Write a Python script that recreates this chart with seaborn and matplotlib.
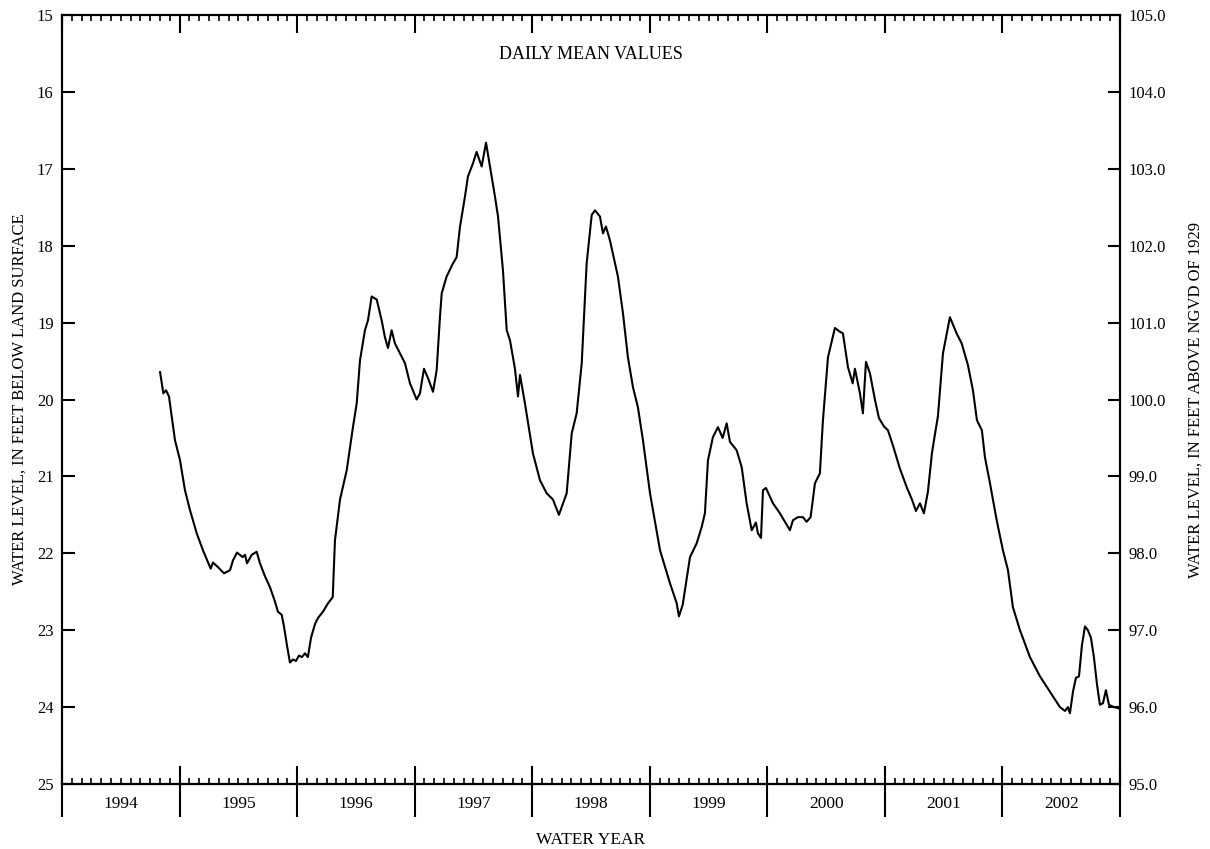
import numpy as np
import pandas as pd
import matplotlib
matplotlib.use("Agg")
import matplotlib.pyplot as plt
import seaborn as sns

# decimal calendar year of each reading, and water level (ft below land surface)
year_frac = [
    1994.584, 1994.612, 1994.635, 1994.660, 1994.711, 1994.754, 1994.796, 1994.839, 1994.896, 1994.949,
    1995.015, 1995.034, 1995.077, 1995.128, 1995.179, 1995.205, 1995.239, 1995.287, 1995.307, 1995.324,
    1995.364, 1995.406, 1995.434, 1995.477, 1995.519, 1995.562, 1995.587, 1995.619, 1995.638, 1995.664,
    1995.689, 1995.715, 1995.740, 1995.766, 1995.791, 1995.817, 1995.842, 1995.868, 1995.902, 1995.928,
    1995.970, 1996.013, 1996.053, 1996.072, 1996.115, 1996.172, 1996.225, 1996.257, 1996.285, 1996.327,
    1996.353, 1996.384, 1996.427, 1996.469, 1996.497, 1996.523, 1996.554, 1996.582, 1996.625, 1996.668,
    1996.710, 1996.767, 1996.795, 1996.829, 1996.863, 1996.906, 1996.937, 1996.965, 1996.980, 1997.022,
    1997.076, 1997.107, 1997.135, 1997.178, 1997.203, 1997.246, 1997.277, 1997.320, 1997.357, 1997.433,
    1997.459, 1997.501, 1997.533, 1997.561, 1997.603, 1997.629, 1997.646, 1997.688, 1997.756, 1997.816,
    1997.873, 1997.926, 1997.977, 1998.043, 1998.086, 1998.128, 1998.171, 1998.213, 1998.256, 1998.284,
    1998.326, 1998.352, 1998.377, 1998.411, 1998.454, 1998.479, 1998.522, 1998.564, 1998.607, 1998.649,
    1998.692, 1998.752, 1998.837, 1998.922, 1998.979, 1998.998, 1999.030, 1999.092, 1999.149, 1999.191,
    1999.219, 1999.245, 1999.287, 1999.330, 1999.370, 1999.404, 1999.432, 1999.489, 1999.532, 1999.574,
    1999.617, 1999.653, 1999.670, 1999.696, 1999.713, 1999.738, 1999.798, 1999.857, 1999.942, 1999.968,
    2000.010, 2000.053, 2000.084, 2000.118, 2000.155, 2000.197, 2000.223, 2000.266, 2000.325, 2000.368,
    2000.393, 2000.436, 2000.476, 2000.495, 2000.538, 2000.563, 2000.589, 2000.623, 2000.665, 2000.699,
    2000.742, 2000.776, 2000.819, 2000.878, 2000.938, 2000.980, 2001.014, 2001.048, 2001.082, 2001.116,
    2001.150, 2001.176, 2001.201, 2001.244, 2001.303, 2001.360, 2001.403, 2001.456, 2001.499, 2001.533,
    2001.575, 2001.601, 2001.644, 2001.701, 2001.754, 2001.797, 2001.839, 2001.899, 2001.984, 2002.069,
    2002.154, 2002.239, 2002.282, 2002.307, 2002.324, 2002.350, 2002.375, 2002.401, 2002.426, 2002.452,
    2002.477, 2002.503, 2002.528, 2002.554, 2002.579, 2002.605, 2002.630, 2002.656, 2002.698, 2002.749,
]
level = [
    19.64, 19.92, 19.88, 19.96, 20.53, 20.79, 21.18, 21.44, 21.74, 21.96,
    22.20, 22.12, 22.18, 22.26, 22.22, 22.09, 21.99, 22.05, 22.02, 22.13,
    22.02, 21.98, 22.13, 22.30, 22.44, 22.63, 22.76, 22.80, 22.95, 23.20,
    23.42, 23.38, 23.40, 23.33, 23.35, 23.30, 23.35, 23.10, 22.92, 22.84,
    22.76, 22.65, 22.57, 21.83, 21.30, 20.92, 20.36, 20.05, 19.49, 19.10,
    18.97, 18.66, 18.70, 18.97, 19.19, 19.33, 19.10, 19.27, 19.40, 19.53,
    19.79, 20.00, 19.92, 19.60, 19.72, 19.90, 19.62, 18.93, 18.62, 18.40,
    18.23, 18.15, 17.76, 17.36, 17.10, 16.93, 16.78, 16.97, 16.66, 17.36,
    17.62, 18.32, 19.10, 19.23, 19.60, 19.96, 19.68, 20.05, 20.70, 21.05,
    21.22, 21.30, 21.50, 21.22, 20.44, 20.18, 19.53, 18.23, 17.60, 17.54,
    17.62, 17.84, 17.75, 17.93, 18.23, 18.40, 18.88, 19.45, 19.84, 20.10,
    20.53, 21.22, 21.96, 22.39, 22.65, 22.82, 22.67, 22.05, 21.87, 21.66,
    21.48, 20.79, 20.49, 20.36, 20.50, 20.31, 20.55, 20.66, 20.88, 21.35,
    21.70, 21.60, 21.74, 21.80, 21.18, 21.15, 21.35, 21.48, 21.70, 21.57,
    21.53, 21.53, 21.59, 21.53, 21.09, 20.96, 20.27, 19.45, 19.07, 19.12,
    19.14, 19.58, 19.79, 19.60, 19.92, 20.18, 19.51, 19.66, 20.00, 20.24,
    20.35, 20.40, 20.60, 20.90, 21.15, 21.30, 21.45, 21.35, 21.48, 21.20,
    20.70, 20.45, 20.22, 19.40, 18.93, 19.14, 19.27, 19.55, 19.88, 20.27,
    20.40, 20.75, 21.09, 21.57, 21.96, 22.22, 22.70, 23.00, 23.35, 23.60,
    23.80, 24.00, 24.05, 24.00, 24.08, 23.80, 23.62, 23.60, 23.20, 22.95,
    23.00, 23.10, 23.35, 23.70, 23.97, 23.95, 23.78, 23.97, 24.00, 24.02,
]

water_years = [1994, 1995, 1996, 1997, 1998, 1999, 2000, 2001, 2002]
left_ticks = [15, 16, 17, 18, 19, 20, 21, 22, 23, 24, 25]
right_ticks = [95, 96, 97, 98, 99, 100, 101, 102, 103, 104, 105]

df = pd.DataFrame({"year": year_frac, "level": level})

sns.set_style("ticks")
plt.rcParams["font.family"] = ["Liberation Serif", "DejaVu Serif"]
plt.rcParams["font.size"] = 12
for key in ["axes.edgecolor", "xtick.color", "ytick.color", "text.color", "axes.labelcolor"]:
    plt.rcParams[key] = "black"

fig = plt.figure(figsize=(12.1, 8.49), dpi=100)
ax = fig.add_axes([62 / 1210, 65 / 849, 1058 / 1210, 769 / 849])

sns.lineplot(data=df, x="year", y="level", ax=ax, color="black", linewidth=1.5)

# water year N runs Oct 1 (N-1) to Sep 30 N
bounds = [wy - 0.25 for wy in water_years] + [water_years[-1] + 0.75]
months = [bounds[0] + i / 12 for i in range(len(water_years) * 12 + 1)]
centers = [wy + 0.25 for wy in water_years]

ax.set_xlim(bounds[0], bounds[-1])
ax.set_ylim(25, 15)
ax.set_xticks(bounds)
ax.set_xticks(months, minor=True)
ax.set_xticklabels([])
ax.tick_params(axis="x", which="major", direction="in", length=13, width=1.5,
               top=True, bottom=True)
ax.tick_params(axis="x", which="minor", direction="in", length=4.5, width=1.2,
               top=True, bottom=True)
ax.set_yticks(left_ticks)
ax.set_yticklabels([str(t) for t in left_ticks])
ax.tick_params(axis="y", direction="in", length=9, width=1.5, pad=6, labelsize=12)
ax.set_xlabel("")
ax.set_ylabel("WATER LEVEL, IN FEET BELOW LAND SURFACE", fontsize=12, labelpad=7)
for s in ax.spines.values():
    s.set_linewidth(1.5)
    s.set_visible(True)

# outer year separators and year labels
sec = ax.secondary_xaxis("bottom")
sec.set_xticks(bounds)
sec.set_xticklabels([])
sec.tick_params(axis="x", which="major", direction="out", length=24, width=1.5)
sec.set_xticks(centers, minor=True)
sec.set_xticklabels([str(y) for y in water_years], minor=True)
sec.tick_params(axis="x", which="minor", length=0, pad=9, labelsize=12.5)
sec.spines["bottom"].set_linewidth(1.5)
sec.set_xlabel("WATER YEAR", fontsize=12.5, labelpad=7)

# right axis, NGVD of 1929
ax2 = ax.twinx()
ax2.set_ylim(95, 105)
ax2.set_yticks(right_ticks)
ax2.set_yticklabels([f"{t:.1f}" for t in right_ticks])
ax2.tick_params(axis="y", direction="in", length=9, width=1.5, pad=6, labelsize=12)
ax2.set_ylabel("WATER LEVEL, IN FEET ABOVE NGVD OF 1929", fontsize=12, labelpad=16)
for s in ax2.spines.values():
    s.set_linewidth(1.5)

ax.text(0.5, 0.948, "DAILY MEAN VALUES", transform=ax.transAxes,
        ha="center", va="center", fontsize=13)

fig.savefig("out.png", dpi=100)
